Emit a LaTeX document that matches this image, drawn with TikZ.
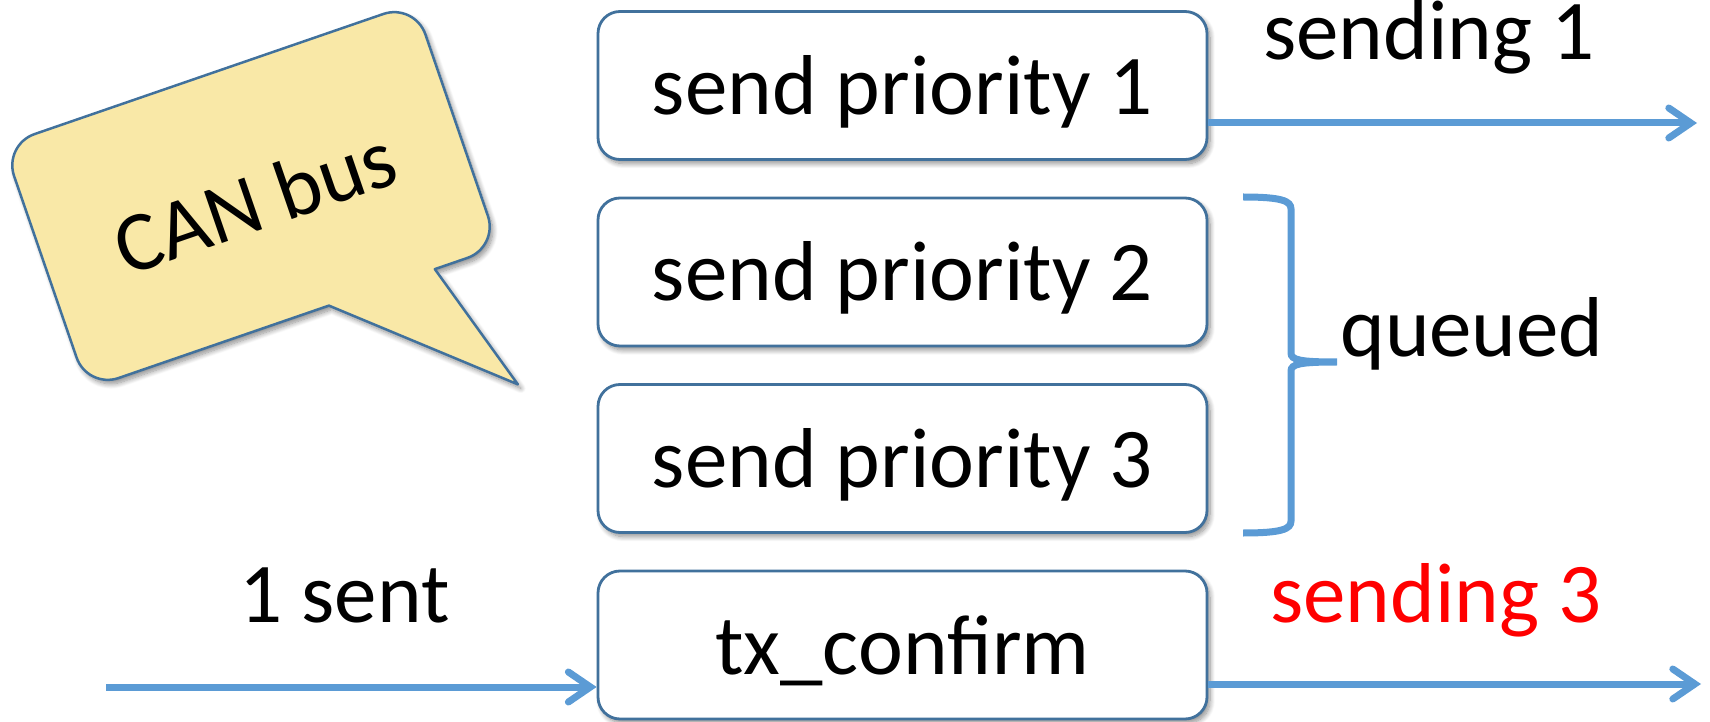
\documentclass[tikz,border=0pt]{standalone}
\usepackage{fontspec}
\setmainfont{Carlito}
\usetikzlibrary{arrows.meta,shadows,shadows.blur,calc}
\definecolor{boxline}{HTML}{41719C}
\definecolor{arrowblue}{HTML}{5B9BD5}
\definecolor{bubblefill}{HTML}{F9E8A7}
\newcommand\bigtxt{\fontsize{85pt}{100pt}\selectfont}
\tikzset{
  softshadow/.style={blur shadow={shadow xshift=3pt, shadow yshift=-4pt, shadow blur radius=5pt, shadow blur steps=10, shadow opacity=45}},
  stepbox/.style={draw=boxline, line width=2.8pt, fill=white, rounded corners=22pt,
    minimum width=609pt, minimum height=148pt, inner sep=0pt,
    text height=70pt, text depth=12pt, font=\bigtxt, softshadow},
  lbl/.style={anchor=base, inner sep=0pt, font=\bigtxt},
  flow/.style={draw=arrowblue, line width=7pt,
    -{Straight Barb[length=22pt, width=30pt, line cap=round]}},
  bracepath/.style={draw=arrowblue, line width=7pt},
  bubble/.style={draw=boxline, line width=2.5pt, fill=bubblefill, line join=round, softshadow}
}
\begin{document}
\begin{tikzpicture}[x=1pt, y=1pt]
\useasboundingbox (0,0) rectangle (1710,721);

% speech bubble
\begin{scope}[shift={(251,525)}, rotate=19]
  \path[bubble] (-217.5,-96) -- (-217.5,96)
    arc[start angle=180, end angle=90, radius=33] -- (184.5,129)
    arc[start angle=90, end angle=0, radius=33] -- (217.5,-96)
    arc[start angle=0, end angle=-90, radius=33] -- (150,-129)
    -- (191,-265) -- (38,-129) -- (-184.5,-129)
    arc[start angle=270, end angle=180, radius=33] -- cycle;
\end{scope}
\node[font=\bigtxt, rotate=19, inner sep=0pt] (can) at (255,520) {CAN bus};

% boxes
\node[stepbox] (box1) at (902.5,635.5) {send priority 1};
\node[stepbox] (box2) at (902.5,449) {send priority 2};
\node[stepbox] (box3) at (902.5,262.5) {send priority 3};
\node[stepbox] (box4) at (902.5,76) {tx\_confirm};

% labels
\node[lbl] (t1) at (1429,661) {sending 1};
\node[lbl] (tq) at (1472,364) {queued};
\node[lbl] (ts) at (344.5,99) {1 sent};
\node[lbl, text=red] (t3) at (1436,99) {sending 3};

% arrows
\coordinate (s1end) at (1697,598);
\draw[flow] ([yshift=-37.5pt]box1.east) -- (s1end);
\coordinate (inStart) at (106,34);
\draw[flow] (inStart) -- ([yshift=-42pt]box4.west);
\coordinate (s3end) at (1701,37);
\draw[flow] ([yshift=-39pt]box4.east) -- (s3end);

% brace
\path[bracepath] (1243,524) .. controls (1282,524) and (1291,520) .. (1291,512)
  -- (1291,368) .. controls (1291,361) and (1300,359) .. (1337,359)
  .. controls (1300,359) and (1291,357) .. (1291,350)
  -- (1291,200) .. controls (1291,192) and (1282,188) .. (1243,188);
\end{tikzpicture}
\end{document}
